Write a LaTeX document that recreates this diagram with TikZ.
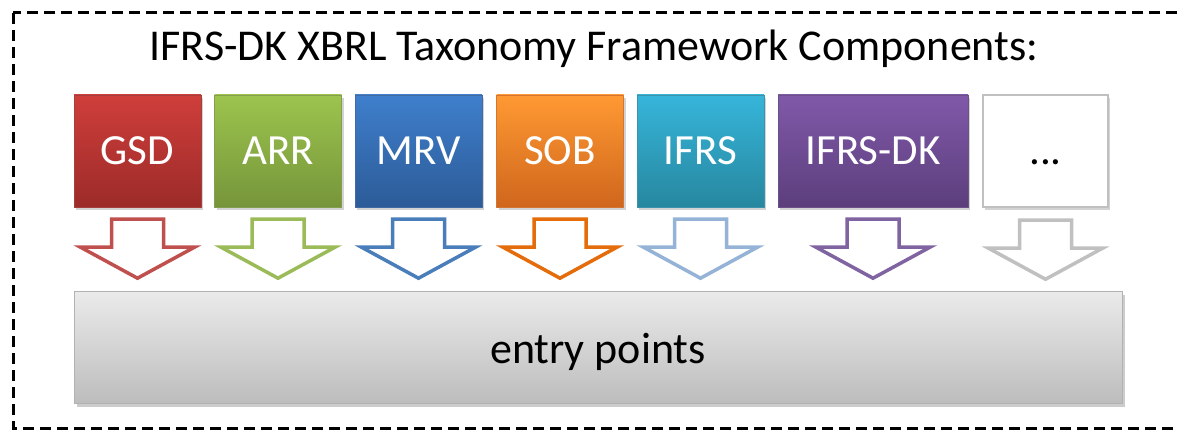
\documentclass[tikz,border=0pt]{standalone}
\usepackage{fontspec}
\setmainfont{Carlito}
\usetikzlibrary{shadows,calc}
\definecolor{gsdT}{HTML}{CF3E3B}\definecolor{gsdB}{HTML}{9C2B29}\definecolor{gsdA}{HTML}{C0504D}
\definecolor{arrT}{HTML}{9CC44E}\definecolor{arrB}{HTML}{76953A}\definecolor{arrA}{HTML}{9BBB59}
\definecolor{mrvT}{HTML}{3F7FCC}\definecolor{mrvB}{HTML}{2C5B98}\definecolor{mrvA}{HTML}{4A7EBB}
\definecolor{sobT}{HTML}{FF9933}\definecolor{sobB}{HTML}{D0661C}\definecolor{sobA}{HTML}{E46C0A}
\definecolor{ifrT}{HTML}{36B5DA}\definecolor{ifrB}{HTML}{27879F}\definecolor{ifrA}{HTML}{95B3D7}
\definecolor{dkT}{HTML}{8059A9}\definecolor{dkB}{HTML}{5C3E7C}\definecolor{dkA}{HTML}{8064A2}
\definecolor{dotA}{HTML}{C0C0C0}
\begin{document}
\begin{tikzpicture}[x=1pt,y=-1pt,
  comp/.style={minimum width=127pt, minimum height=112pt, inner sep=0pt, text=white,
    font=\fontsize{43}{47}\selectfont, text height=27.7pt, text depth=0pt,
    drop shadow={shadow xshift=2pt, shadow yshift=-3pt, opacity=0.35}},
  blockarrow/.pic={\draw[line width=3.5pt, line join=miter, fill=white]
    (-26,0) -- (26,0) -- (26,28) -- (57,28) -- (0,59) -- (-57,28) -- (-26,28) -- cycle;}
]
\useasboundingbox (0,0) rectangle (1177,430);
\begin{scope}
\clip (0,0) rectangle (1177,430);
\draw[line width=3pt, dash pattern=on 11pt off 6pt] (13,13) rectangle (1200,428);
\end{scope}
\node[font=\fontsize{44}{48}\selectfont, text height=28.3pt, text depth=0pt, inner sep=0pt] (title) at (594,46) {IFRS-DK XBRL Taxonomy Framework Components:};
\node[comp, top color=gsdT, bottom color=gsdB, draw=gsdB!90] (gsd) at (137.5,151) {GSD};
\node[comp, top color=arrT, bottom color=arrB, draw=arrB!90] (arr) at (278,151) {ARR};
\node[comp, top color=mrvT, bottom color=mrvB, draw=mrvB!90] (mrv) at (418.5,151) {MRV};
\node[comp, top color=sobT, bottom color=sobB, draw=sobB!90] (sob) at (560,151) {SOB};
\node[comp, top color=ifrT, bottom color=ifrB, draw=ifrB!90] (ifrs) at (700.5,151) {IFRS};
\node[comp, minimum width=190pt, top color=dkT, bottom color=dkB, draw=dkB!90] (dk) at (873,151) {IFRS-DK};
\node[comp, minimum width=125pt, fill=white, draw=dotA, line width=2.5pt, text=black] (dots) at (1045.5,151) {...};
\node[minimum width=1048pt, minimum height=112pt, inner sep=0pt, top color=black!8, bottom color=black!26,
  draw=black!30, font=\fontsize{44}{48}\selectfont, text height=44pt, text depth=12pt,
  drop shadow={shadow xshift=3pt, shadow yshift=-4pt, opacity=0.4}] (entry) at (598,347) {entry points};
\foreach \n/\c in {gsd/gsdA, arr/arrA, mrv/mrvA, sob/sobA, ifrs/ifrA, dk/dkA, dots/dotA}{
  \pic[color=\c] at ($(\n.south)+(0,12)$) {blockarrow};
}
\end{tikzpicture}
\end{document}
